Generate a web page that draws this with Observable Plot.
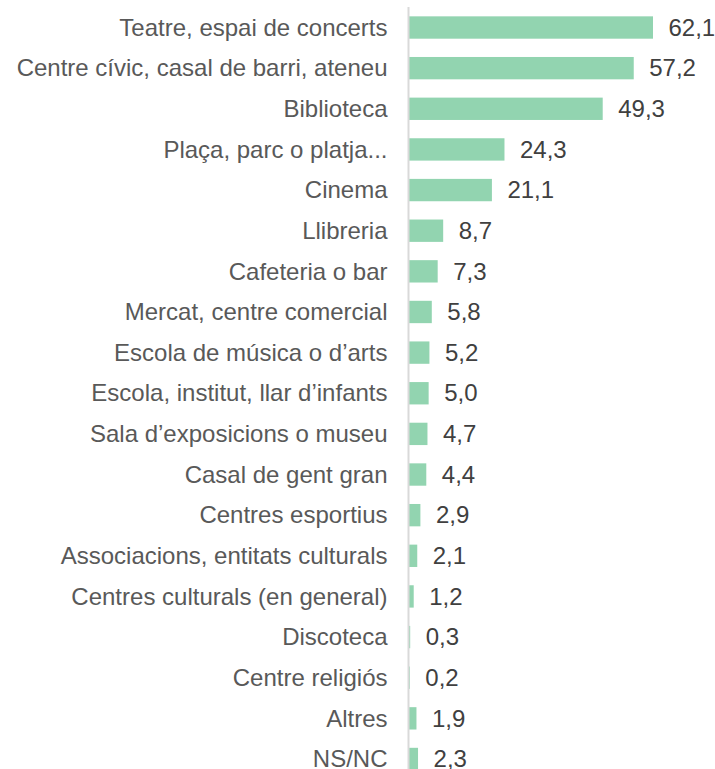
<!DOCTYPE html>
<html>
<head>
<meta charset="utf-8">
<script src="https://cdn.jsdelivr.net/npm/d3@7"></script>
<script src="https://cdn.jsdelivr.net/npm/@observablehq/plot@0.6"></script>
<style>
  html, body { margin: 0; padding: 0; background: #fff; }
  #chart svg { display: block; }
</style>
</head>
<body>
<div id="chart"></div>
<script>
const categories = [
  "Teatre, espai de concerts",
  "Centre cívic, casal de barri, ateneu",
  "Biblioteca",
  "Plaça, parc o platja...",
  "Cinema",
  "Llibreria",
  "Cafeteria o bar",
  "Mercat, centre comercial",
  "Escola de música o d’arts",
  "Escola, institut, llar d’infants",
  "Sala d’exposicions o museu",
  "Casal de gent gran",
  "Centres esportius",
  "Associacions, entitats culturals",
  "Centres culturals (en general)",
  "Discoteca",
  "Centre religiós",
  "Altres",
  "NS/NC"
];
const values = [62.1, 57.2, 49.3, 24.3, 21.1, 8.7, 7.3, 5.8, 5.2, 5.0, 4.7, 4.4, 2.9, 2.1, 1.2, 0.3, 0.2, 1.9, 2.3];

const data = categories.map((c, i) => ({category: c, value: values[i]}));
const fmt = v => v.toFixed(1).replace(".", ",");

const chart = Plot.plot({
  width: 715,
  height: 769,
  marginLeft: 409,
  marginRight: 62,
  marginTop: 7,
  marginBottom: 0,
  style: {fontFamily: "'Liberation Sans', Arial, sans-serif", fontSize: "24px", background: "#fff"},
  x: {domain: [0, 62.1], axis: null},
  y: {domain: categories, range: [7.2, 779.3], paddingInner: 0.45, paddingOuter: 0.225, round: false, label: null},
  marks: [
    Plot.barX(data, {x: "value", y: "category", fill: "#92d4b0"}),
    Plot.ruleX([0], {stroke: "#d9d9d9", strokeWidth: 2, dx: -1}),
    Plot.axisY({tickSize: 0, tickPadding: 22, fill: "#595959", fontSize: 24, label: null}),
    Plot.text(data, {x: "value", y: "category", text: d => fmt(d.value), textAnchor: "start", dx: 15, fill: "#404040", fontSize: 24})
  ]
});
document.getElementById("chart").appendChild(chart);
</script>
</body>
</html>
